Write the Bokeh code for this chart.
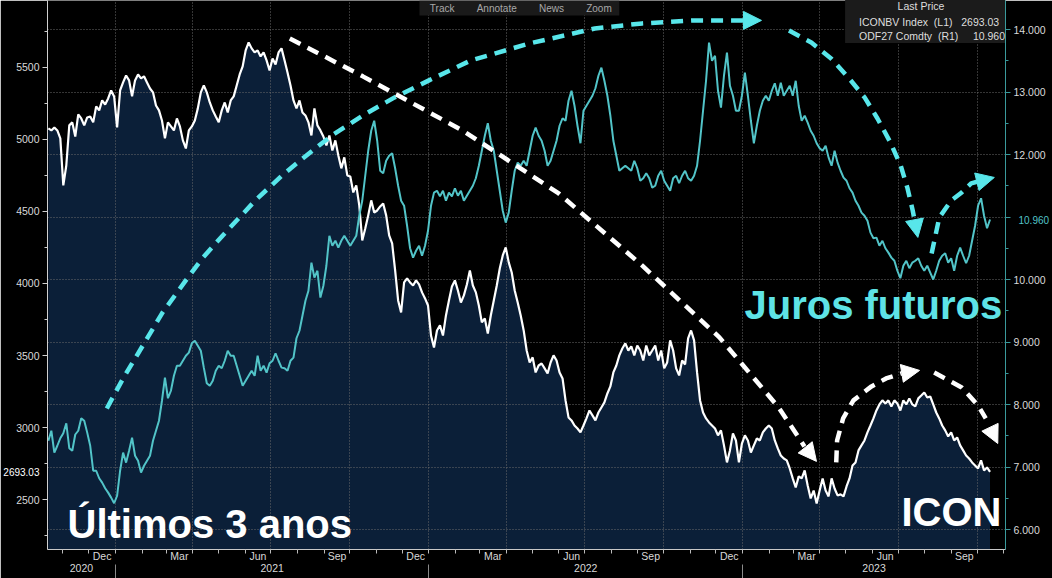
import pandas as pd
from bokeh.plotting import figure
from bokeh.models import (Range1d, LinearAxis, DatetimeAxis, FixedTicker, DatetimeTickFormatter,
                          PrintfTickFormatter, Grid, Label, Arrow, NormalHead, Legend, LegendItem)
from bokeh.embed import file_html
from bokeh.resources import INLINE

# ---------------- data ----------------
series_start = "2020-10-15"
series_end = "2023-10-16"

# ICONBV Index (left axis)
icon_values = [
    5075, 5061, 5082, 5061, 5006, 4680, 4818, 5096, 5117, 5019,
    5172, 5144, 5096, 5151, 5158, 5117, 5228, 5200, 5269, 5241,
    5283, 5338, 5297, 5082, 5338, 5394, 5442, 5408, 5297, 5408,
    5449, 5422, 5436, 5394, 5352, 5325, 5234, 5200, 5130, 5006,
    5117, 5089, 5061, 5144, 5089, 4992, 4936, 5061, 5089, 5130,
    5214, 5325, 5373, 5325, 5255, 5200, 5158, 5117, 5200, 5255,
    5186, 5269, 5297, 5373, 5449, 5505, 5616, 5671, 5630, 5602,
    5616, 5574, 5602, 5547, 5477, 5560, 5519, 5602, 5630, 5547,
    5463, 5373, 5269, 5214, 5269, 5186, 5165, 5117, 5026, 5214,
    5096, 5061, 5019, 4957, 5026, 4922, 4992, 4888, 4798, 4874,
    4749, 4742, 4631, 4680, 4541, 4298, 4381, 4472, 4576, 4492,
    4506, 4534, 4555, 4472, 4333, 4277, 4090, 3882, 3799, 4007,
    4035, 4007, 3986, 4021, 3993, 3938, 3896, 3847, 3639, 3556,
    3674, 3709, 3639, 3778, 3882, 3979, 4021, 3951, 3868, 3917,
    3993, 4090, 3986, 3938, 3847, 3730, 3757, 3653, 3778, 3882,
    3986, 4104, 4194, 4250, 4146, 4076, 3951, 3868, 3778, 3674,
    3535, 3452, 3487, 3383, 3431, 3445, 3411, 3376, 3452, 3501,
    3466, 3383, 3341, 3189, 3071, 3050, 3015, 2994, 2967, 3015,
    3064, 3119, 3085, 3050, 3105, 3140, 3175, 3237, 3286, 3383,
    3431, 3501, 3549, 3584, 3535, 3563, 3501, 3570, 3535, 3466,
    3570, 3501, 3535, 3570, 3466, 3535, 3411, 3452, 3605, 3535,
    3411, 3362, 3466, 3438, 3619, 3674, 3605, 3383, 3189, 3105,
    3064, 3036, 3015, 2994, 2946, 2981, 2877, 2759, 2842, 2960,
    2911, 2759, 2890, 2946, 2911, 2828, 2877, 2925, 2911, 2967,
    2994, 3015, 2994, 2911, 2856, 2807, 2786, 2773, 2717, 2648,
    2585, 2662, 2648, 2703, 2599, 2509, 2564, 2474, 2564, 2648,
    2564, 2523, 2648, 2578, 2530, 2537, 2523, 2592, 2648, 2738,
    2759, 2842, 2877, 2911, 2967, 3015, 3064, 3119, 3161, 3189,
    3168, 3189, 3147, 3189, 3168, 3119, 3189, 3161, 3203, 3161,
    3147, 3203, 3223, 3244, 3209, 3216, 3161, 3105, 3064, 3015,
    2981, 2939, 2967, 2911, 2932, 2877, 2842, 2807, 2786, 2759,
    2738, 2717, 2773, 2703, 2724, 2693.03,
]

# ODF27 Comdty (right axis)
odf_values = [
    7.42, 7.58, 7.23, 7.34, 7.46, 7.54, 7.70, 7.30, 7.26, 7.52,
    7.58, 7.78, 7.74, 7.55, 7.34, 6.94, 6.94, 6.82, 6.75, 6.66,
    6.59, 6.51, 6.42, 6.54, 6.94, 7.23, 7.07, 7.26, 7.47, 7.18,
    7.10, 6.91, 7.02, 7.10, 7.18, 7.42, 7.58, 7.74, 8.06, 8.43,
    8.10, 8.22, 8.46, 8.62, 8.62, 8.70, 8.78, 8.83, 8.98, 9.02,
    8.94, 8.86, 8.59, 8.34, 8.30, 8.38, 8.54, 8.62, 8.58, 8.70,
    8.86, 8.78, 8.78, 8.62, 8.46, 8.30, 8.38, 8.46, 8.54, 8.46,
    8.78, 8.54, 8.62, 8.51, 8.66, 8.70, 8.82, 8.70, 8.59, 8.58,
    8.54, 8.70, 8.75, 9.06, 9.18, 9.42, 9.66, 9.82, 10.27, 10.03,
    10.14, 9.71, 9.90, 10.22, 10.70, 10.54, 10.62, 10.51, 10.62, 10.70,
    10.62, 10.54, 10.62, 10.70, 11.02, 11.26, 11.66, 12.06, 12.38, 12.54,
    12.22, 11.74, 11.70, 11.90, 11.98, 12.02, 11.78, 11.50, 11.26, 11.18,
    10.86, 10.50, 10.35, 10.46, 10.54, 10.38, 10.54, 10.78, 11.18, 11.39,
    11.42, 11.33, 11.42, 11.26, 11.39, 11.33, 11.46, 11.34, 11.42, 11.26,
    11.34, 11.42, 11.50, 11.62, 11.82, 12.06, 12.30, 12.50, 12.22, 12.06,
    11.74, 11.42, 11.10, 10.91, 11.07, 11.42, 11.74, 11.87, 11.82, 11.90,
    11.82, 12.06, 12.30, 12.43, 12.30, 12.22, 12.06, 11.82, 11.90, 12.06,
    12.22, 12.46, 12.58, 12.54, 12.86, 13.02, 12.78, 12.46, 12.18, 12.70,
    12.78, 12.86, 12.94, 13.06, 13.26, 13.39, 13.18, 12.94, 12.62, 12.22,
    11.98, 11.74, 11.78, 11.82, 11.78, 11.74, 11.90, 11.78, 11.58, 11.62,
    11.70, 11.62, 11.47, 11.50, 11.66, 11.74, 11.58, 11.50, 11.42, 11.62,
    11.66, 11.54, 11.66, 11.74, 11.62, 11.58, 11.66, 11.82, 12.22, 12.70,
    13.18, 13.79, 13.50, 13.58, 13.02, 12.75, 13.26, 13.63, 13.10, 12.94,
    12.70, 12.70, 12.94, 13.31, 12.94, 12.54, 12.18, 12.46, 12.70, 12.86,
    12.94, 12.86, 13.02, 13.14, 12.94, 13.15, 12.94, 13.02, 13.10, 12.94,
    13.18, 12.78, 12.54, 12.62, 12.51, 12.38, 12.30, 12.18, 12.10, 12.06,
    12.14, 11.95, 11.82, 12.06, 11.87, 11.74, 11.63, 11.58, 11.46, 11.39,
    11.26, 11.18, 11.07, 11.02, 10.94, 10.75, 10.66, 10.67, 10.54, 10.62,
    10.50, 10.43, 10.35, 10.30, 10.14, 10.02, 10.22, 10.30, 10.18, 10.27,
    10.30, 10.34, 10.22, 10.14, 10.22, 10.11, 10.00, 10.14, 10.30, 10.38,
    10.42, 10.27, 10.34, 10.14, 10.38, 10.51, 10.38, 10.26, 10.38, 10.62,
    10.86, 11.18, 11.30, 11.02, 10.82, 10.960,
]

icon_last = 2693.03
odf_last = 10.96
icon_last_txt = "2693.03"
odf_last_txt = "10.960"

left_ticks = [2500, 3000, 3500, 4000, 4500, 5000, 5500]
left_minor = [2250, 2750, 3250, 3750, 4250, 4750, 5250, 5750]
right_ticks = [6, 7, 8, 9, 10, 11, 12, 13, 14]
right_minor = [5.5, 6.5, 7.5, 8.5, 9.5, 10.5, 11.5, 12.5, 13.5, 14.5]

# annotation paths (dates, left-axis units)
cyan_big_x = ["2020-12-22", "2021-01-10", "2021-02-02", "2021-02-25", "2021-03-24", "2021-04-12",
              "2021-05-06", "2021-06-13", "2021-07-14", "2021-08-07", "2021-09-10", "2021-10-16",
              "2021-11-22", "2022-01-01", "2022-02-19", "2022-04-28", "2022-07-13", "2022-09-06",
              "2022-11-06", "2023-01-02"]
cyan_big_y = [3133, 3341, 3570, 3799, 4021, 4173, 4333, 4576, 4749, 4867, 5026, 5165,
              5290, 5408, 5547, 5664, 5768, 5803, 5824, 5824]
cyan_big_tip = ("2023-01-23", 5824)

white_diag_x = ["2021-07-23", "2021-10-16", "2022-02-09", "2022-06-01", "2022-09-06",
                "2022-12-05", "2023-02-12", "2023-03-14"]
white_diag_y = [5699, 5436, 5061, 4624, 4125, 3626, 3140, 2870]
white_diag_tip = ("2023-03-28", 2766)

white_up_x = ["2023-04-20", "2023-04-21", "2023-04-28", "2023-05-10", "2023-05-31", "2023-06-17", "2023-07-05"]
white_up_y = [2759, 2911, 3064, 3189, 3286, 3341, 3376]
white_up_tip = ("2023-07-26", 3397)

white_down_x = ["2023-08-12", "2023-09-13", "2023-10-02", "2023-10-11"]
white_down_y = [3383, 3279, 3154, 3064]
white_down_tip = ("2023-10-25", 2890)

cyan_down_x = ["2023-02-24", "2023-03-22", "2023-04-14", "2023-05-05", "2023-05-23", "2023-06-07",
               "2023-06-22", "2023-07-04", "2023-07-12", "2023-07-18", "2023-07-20"]
cyan_down_y = [5754, 5671, 5560, 5422, 5290, 5144, 4978, 4818, 4659, 4506, 4444]
cyan_down_tip = ("2023-07-24", 4319)

cyan_up_x = ["2023-08-09", "2023-08-18", "2023-09-01", "2023-09-13", "2023-09-24", "2023-10-02"]
cyan_up_y = [4208, 4458, 4576, 4631, 4694, 4707]
cyan_up_tip = ("2023-10-21", 4735)

# ---------------- styling ----------------
NAVY = "#0b1f38"
TEAL = "#52c4c8"
CYAN = "#58e6ea"
GRID = "#6a6a6a"
AXIS_TXT = "#d9d9d9"
FONT = "Liberation Sans"

x_start, x_end = "2020-10-14", "2023-11-03"
left_lo, left_hi = 2155, 5962
right_lo, right_hi = 5.68, 14.464


def ms(t):
    return (pd.Timestamp(t) - pd.Timestamp("1970-01-01")) / pd.Timedelta(milliseconds=1)


icon_dates = pd.date_range(series_start, series_end, periods=len(icon_values))
odf_dates = pd.date_range(series_start, series_end, periods=len(odf_values))

p = figure(width=1052, height=578, x_axis_type="datetime",
           x_range=Range1d(pd.Timestamp(x_start), pd.Timestamp(x_end)),
           y_range=Range1d(left_lo, left_hi),
           output_backend="svg", toolbar_location=None,
           background_fill_color="black", border_fill_color="black",
           outline_line_color=None,
           min_border_left=44, min_border_right=45, min_border_top=0, min_border_bottom=29)
p.extra_y_ranges = {"right": Range1d(right_lo, right_hi)}

# area + lines
p.varea(x=icon_dates, y1=left_lo, y2=icon_values, fill_color=NAVY, level="image")
p.line(icon_dates, icon_values, line_color="white", line_width=2.2)
p.line(odf_dates, odf_values, y_range_name="right", line_color=TEAL, line_width=2)

# ticks on the time axis
month_starts = pd.date_range("2020-11-01", "2023-11-01", freq="MS")
label_months = [d + pd.Timedelta(days=d.days_in_month / 2) for d in month_starts if d.month in (12, 3, 6, 9)]
quarter_starts = [d for d in month_starts if d.month in (1, 4, 7, 10)]
year_starts = [pd.Timestamp(f"{y}-01-01") for y in (2021, 2022, 2023)]
year_centers = []
for y in (2020, 2021, 2022, 2023):
    lo = max(pd.Timestamp(f"{y}-01-01"), pd.Timestamp(x_start))
    hi = min(pd.Timestamp(f"{y + 1}-01-01"), pd.Timestamp(x_end))
    year_centers.append(lo + (hi - lo) / 2)

fmt_keys = ["microseconds", "milliseconds", "seconds", "minsec", "minutes", "hourmin", "hours", "days", "months", "years"]

xa = p.xaxis[0]
xa.ticker = FixedTicker(ticks=[ms(t) for t in label_months], minor_ticks=[ms(t) for t in month_starts])
xa.formatter = DatetimeTickFormatter(boundary_scaling=False, **{k: "%b" for k in fmt_keys})
xa.major_tick_out = 0
xa.major_tick_in = 0
xa.minor_tick_out = 4
xa.minor_tick_in = 0
xa.minor_tick_line_color = "#bbbbbb"
xa.axis_line_color = "#c8c8c8"
xa.major_label_text_color = AXIS_TXT
xa.major_label_text_font = FONT
xa.major_label_text_font_size = "10.5px"
xa.major_label_standoff = -4

year_axis = DatetimeAxis(
    ticker=FixedTicker(ticks=[ms(t) for t in year_centers], minor_ticks=[ms(t) for t in year_starts]),
    formatter=DatetimeTickFormatter(boundary_scaling=False, **{k: "%Y" for k in fmt_keys}),
    axis_line_color=None, major_tick_out=0, major_tick_in=0,
    minor_tick_out=14, minor_tick_in=0, minor_tick_line_color="#8a8a8a",
    major_label_text_color=AXIS_TXT, major_label_text_font=FONT,
    major_label_text_font_size="10.5px", major_label_standoff=-15)
p.add_layout(year_axis, "below")

ya = p.yaxis[0]
ya.ticker = FixedTicker(ticks=left_ticks, minor_ticks=left_minor)
ya.axis_line_color = "#d0d0d0"
ya.major_tick_line_color = "#d0d0d0"
ya.minor_tick_line_color = "#d0d0d0"
ya.major_tick_out = 5
ya.major_tick_in = 0
ya.minor_tick_out = 3
ya.minor_tick_in = 0
ya.major_label_text_color = AXIS_TXT
ya.major_label_text_font = FONT
ya.major_label_text_font_size = "10.5px"
ya.major_label_standoff = 3

ra = LinearAxis(y_range_name="right",
                ticker=FixedTicker(ticks=right_ticks, minor_ticks=right_minor),
                formatter=PrintfTickFormatter(format="%.3f"),
                major_label_overrides={11: ""},
                axis_line_color="#3a9a9c", major_tick_line_color="#3a9a9c", minor_tick_line_color="#3a9a9c",
                major_tick_out=5, major_tick_in=0, minor_tick_out=3, minor_tick_in=0,
                major_label_text_color=AXIS_TXT, major_label_text_font=FONT,
                major_label_text_font_size="10.5px", major_label_standoff=3)
p.add_layout(ra, "right")


# last-value tags, drawn as thin extra axes whose single label sits over the main axis
def tag_axis(tick, text, bg, fg, standoff, **kw):
    ax = LinearAxis(ticker=FixedTicker(ticks=[tick]), major_label_overrides={tick: text},
                    axis_line_color=None, major_tick_line_color=None, minor_tick_line_color=None,
                    major_tick_out=0, major_tick_in=0, minor_tick_out=0, minor_tick_in=0,
                    major_label_text_font=FONT, major_label_text_font_size="10px",
                    major_label_standoff=standoff, **kw)
    try:
        ax.major_label_background_fill_color = bg
        ax.major_label_text_color = fg
    except Exception:
        ax.major_label_text_color = bg
    return ax


p.add_layout(tag_axis(icon_last, icon_last_txt, "white", "black", -26), "left")
p.add_layout(tag_axis(odf_last, odf_last_txt, TEAL, "#0c2b2c", -30, y_range_name="right"), "right")

# grids
p.xgrid[0].ticker = FixedTicker(ticks=[ms(t) for t in quarter_starts])
p.xgrid[0].grid_line_color = GRID
p.xgrid[0].grid_line_dash = "1 2"
p.ygrid[0].visible = False
p.add_layout(Grid(dimension=1, y_range_name="right", ticker=FixedTicker(ticks=right_ticks),
                  grid_line_color=GRID, grid_line_dash="1 2"))


# dashed arrows
def dashed_arrow(xs, ys, tip, color):
    p.line(pd.to_datetime(xs), ys, line_color=color, line_width=4.5, line_dash="12 8")
    p.add_layout(Arrow(end=NormalHead(size=18, fill_color=color, line_color=color, line_width=1),
                       x_start=ms(xs[-1]), y_start=ys[-1], x_end=ms(tip[0]), y_end=tip[1],
                       line_alpha=0))


dashed_arrow(cyan_big_x, cyan_big_y, cyan_big_tip, CYAN)
dashed_arrow(white_diag_x, white_diag_y, white_diag_tip, "white")
dashed_arrow(white_up_x, white_up_y, white_up_tip, "white")
dashed_arrow(white_down_x, white_down_y, white_down_tip, "white")
dashed_arrow(cyan_down_x, cyan_down_y, cyan_down_tip, CYAN)
dashed_arrow(cyan_up_x, cyan_up_y, cyan_up_tip, CYAN)

# legend
r_icon = p.quad(left=[], right=[], top=[], bottom=[], fill_color="white", line_color="white")
r_odf = p.quad(left=[], right=[], top=[], bottom=[], fill_color=TEAL, line_color=TEAL)
nb = "\u00a0"
legend = Legend(items=[
    LegendItem(label=f"ICONBV Index{nb*2}(L1){nb*3}{icon_last_txt}", renderers=[r_icon]),
    LegendItem(label=f"ODF27 Comdty{nb*2}(R1){nb*5}{odf_last_txt}", renderers=[r_odf]),
], location="top_right", title=nb * 18 + "Last Price", margin=0, padding=6, spacing=0,
    label_text_font=FONT, label_text_font_size="10.5px", label_text_color="#dedede",
    label_height=14, glyph_height=10, glyph_width=10, label_standoff=4,
    title_text_font=FONT, title_text_font_size="10.5px", title_text_color="#dedede",
    title_text_font_style="normal", title_standoff=3,
    background_fill_color="#1b1b1b", background_fill_alpha=1, border_line_color=None)
p.add_layout(legend)

# toolbar-like strip at the top
p.add_layout(Label(x=372, y=left_hi, x_units="screen", y_units="data",
                   text=f"{nb*3}Track{nb*8}Annotate{nb*8}News{nb*8}Zoom{nb*2}",
                   text_font=FONT, text_font_size="10px", text_color="#a8a8a8",
                   text_baseline="top", background_fill_color="#1a1a1a", padding=2))

# big captions
p.add_layout(Label(x=20, y=26, x_units="screen", y_units="screen", text="Últimos 3 anos",
                   text_font=FONT, text_font_size="40px", text_font_style="bold",
                   text_color="white", text_baseline="alphabetic"))
p.add_layout(Label(x=697, y=245, x_units="screen", y_units="screen", text="Juros futuros",
                   text_font=FONT, text_font_size="40px", text_font_style="bold",
                   text_color="#5ee3e6", text_baseline="alphabetic"))
p.add_layout(Label(x=854, y=38, x_units="screen", y_units="screen", text="ICON",
                   text_font=FONT, text_font_size="40px", text_font_style="bold",
                   text_color="white", text_baseline="alphabetic"))

open("out.html", "w").write(file_html(p, INLINE))
